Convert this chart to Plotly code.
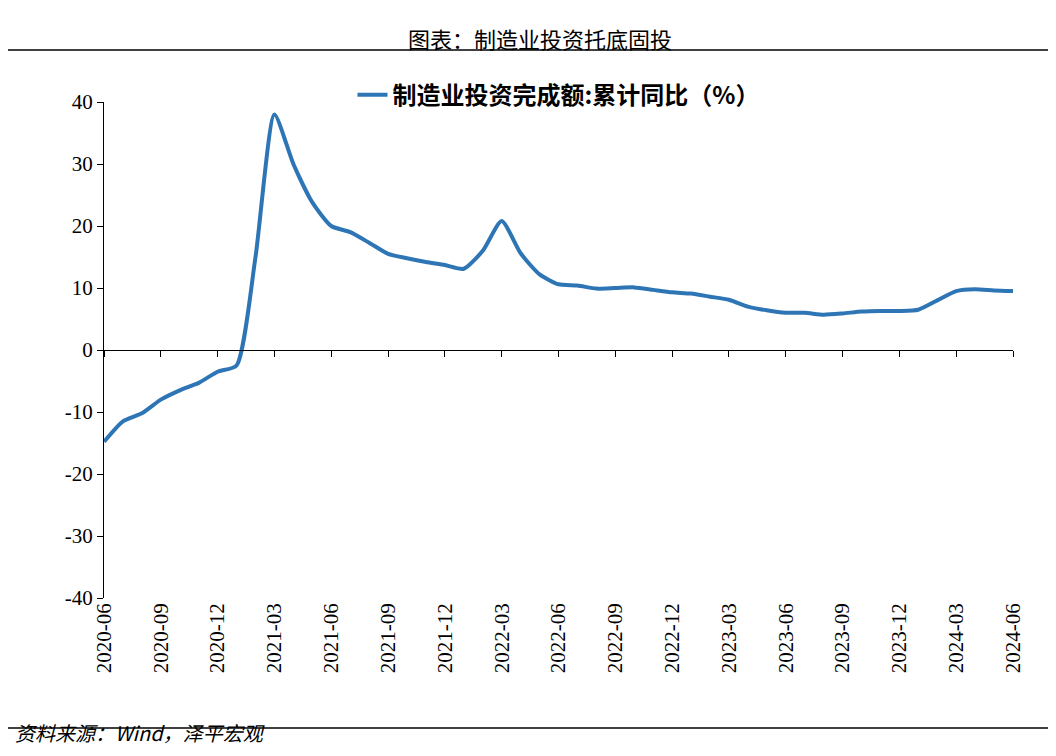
import plotly.graph_objects as go
import pandas as pd

months = pd.date_range("2020-06-01", "2024-06-01", freq="MS").strftime("%Y-%m").tolist()
values = [-14.8, -11.5, -10.2, -8.0, -6.5, -5.3, -3.5, -2.5, 15.0, 38.0,
          30.0, 23.8, 20.0, 19.0, 17.3, 15.5, 14.8, 14.2, 13.7, 13.1,
          16.0, 20.8, 15.6, 12.2, 10.6, 10.4, 9.9, 10.0, 10.1, 9.7,
          9.3, 9.1, 8.6, 8.1, 7.0, 6.4, 6.0, 6.0, 5.7, 5.9,
          6.2, 6.3, 6.3, 6.5, 8.0, 9.5, 9.8, 9.6, 9.5]
tick_labels = months[::3]
y_ticks = [-40, -30, -20, -10, 0, 10, 20, 30, 40]
y_tick_text = [str(v) for v in y_ticks]
series_name = "制造业投资完成额:累计同比（%）"

fig = go.Figure()
fig.add_trace(go.Scatter(x=months, y=values, mode="lines", name=series_name,
                         line=dict(color="#2E75B6", width=4, shape="spline", smoothing=0.6)))
fig.add_trace(go.Scatter(x=months, y=[None]*len(months), xaxis="x2", showlegend=False, hoverinfo="skip"))

axis_font = dict(family="Liberation Serif, Times New Roman, serif", size=21, color="black")
fig.update_layout(
    width=1056, height=756, plot_bgcolor="white", paper_bgcolor="white",
    margin=dict(l=96, r=51, t=94, b=166, autoexpand=False),
    showlegend=True,
    legend=dict(x=0.5, y=1.014, xanchor="center", yanchor="middle", orientation="h",
                font=dict(family="Noto Sans CJK SC", size=24, color="black", weight="bold"),
                bgcolor="rgba(0,0,0,0)"),
    xaxis=dict(type="category", categoryorder="array", categoryarray=months,
               tickvals=tick_labels, ticktext=tick_labels, tickangle=-90,
               tickfont=axis_font, showgrid=False, showline=False, ticks="",
               range=[0, len(months)-1]),
    xaxis2=dict(type="category", categoryorder="array", categoryarray=months,
                overlaying="x", anchor="free", position=0.5, matches="x",
                tickvals=tick_labels, showticklabels=False, ticks="outside",
                ticklen=6, tickcolor="black", showline=True, linecolor="black",
                linewidth=1, showgrid=False, range=[0, len(months)-1]),
    yaxis=dict(range=[-40, 40], tickvals=y_ticks, ticktext=y_tick_text, tickfont=axis_font,
               showgrid=False, showline=True, linecolor="black", linewidth=1,
               ticks="outside", ticklen=6, tickcolor="black", zeroline=False),
    shapes=[
        dict(type="line", xref="paper", yref="paper", x0=-0.106, x1=1.06, y0=1.105, y1=1.105,
             line=dict(color="black", width=1.5)),
        dict(type="line", xref="paper", yref="paper", x0=-0.106, x1=1.06, y0=-0.262, y1=-0.262,
             line=dict(color="black", width=1.5)),
    ],
    annotations=[
        dict(text="图表：制造业投资托底固投", xref="paper", yref="paper", x=0.48, y=1.165,
             showarrow=False, font=dict(family="Noto Sans CJK SC", size=22, color="black")),
        dict(text="<i>资料来源：Wind，泽平宏观</i>", xref="paper", yref="paper", x=-0.1, y=-0.305,
             xanchor="left", showarrow=False,
             font=dict(family="Noto Sans CJK SC", size=20, color="black")),
    ],
)
fig.write_html("out.html")
